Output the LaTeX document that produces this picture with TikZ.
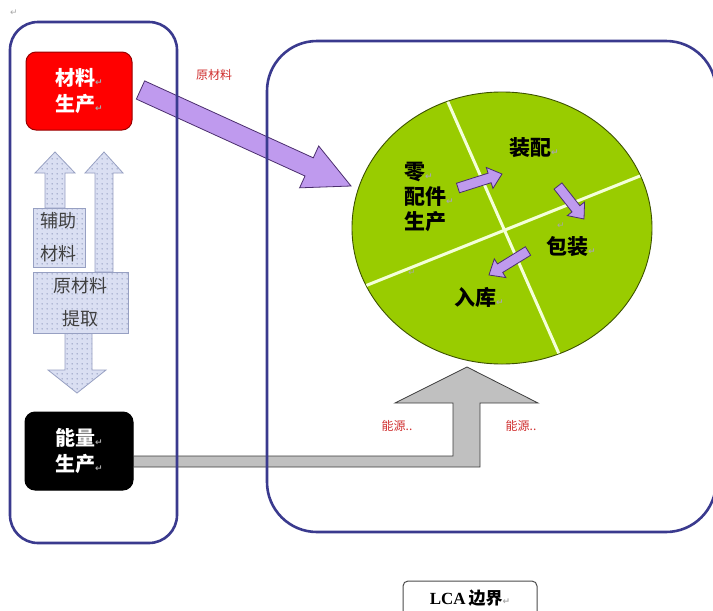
\documentclass[tikz,border=0pt]{standalone}
\usepackage{fontspec}
\setmainfont{Liberation Serif}
\newfontfamily\cjk{Noto Sans CJK SC}
\newfontfamily\symf{DejaVu Sans}
\usetikzlibrary{calc,patterns.meta,shapes.geometric}
\definecolor{navy}{HTML}{3A3A8E}
\definecolor{purp}{HTML}{BF9AEE}
\definecolor{purpd}{HTML}{4B2E6E}
\definecolor{leaf}{HTML}{99CC00}
\definecolor{leafd}{HTML}{3D5200}
\definecolor{linew}{HTML}{F4FFD8}
\definecolor{garr}{HTML}{C0C0C0}
\definecolor{garrd}{HTML}{3C3C3C}
\definecolor{lav}{HTML}{DADFF2}
\definecolor{lavdot}{HTML}{7D88B0}
\definecolor{lavb}{HTML}{97A0C2}
\definecolor{retc}{HTML}{A8A8A8}
\definecolor{lblred}{HTML}{D03030}
\definecolor{boxred}{HTML}{FF0000}
\tikzdeclarepattern{name=softdots,type=uncolored,bottom left={(0pt,0pt)},top right={(5pt,5pt)},tile size={(5pt,5pt)},code={\fill (2.5pt,2.5pt) circle (0.75pt);}}
\newcommand\rmk{{\symf\fontsize{9}{9}\selectfont\color{retc}↵}}
\newcommand\FatArr[6]{%
  \coordinate (fah) at ($(#3)!#6!(#2)$);
  \path[#1] ($(#2)!#4!90:(#3)$) -- ($(fah)!#4!90:(#3)$) -- ($(fah)!#5!90:(#3)$) -- (#3)
    -- ($(fah)!#5!-90:(#3)$) -- ($(fah)!#4!-90:(#3)$) -- ($(#2)!#4!-90:(#3)$) -- cycle;}
\tikzset{
  bound/.style={draw=navy,line width=2.6pt},
  srcbox/.style={rounded corners=10pt,line width=1pt,text=white,align=left,
    font=\cjk\bfseries\fontsize{20}{26}\selectfont,inner sep=0pt},
  dotshape/.style={draw=lavb,line width=0.8pt,preaction={fill=lav},pattern=softdots,pattern color=lavdot},
  dottext/.style={text=black!75,align=center,font=\cjk\fontsize{18}{33}\selectfont,inner sep=0pt},
  purpshape/.style={fill=purp,draw=purpd,line width=0.8pt},
  stage/.style={font=\cjk\bfseries\fontsize{21}{25}\selectfont,align=left,inner sep=0pt,anchor=west},
  redlbl/.style={text=lblred,font=\cjk\fontsize{12}{14}\selectfont,inner sep=0pt},
}
\begin{document}
\begin{tikzpicture}[x=1pt,y=-1pt]
\useasboundingbox (0,0) rectangle (713,611);
\fill[white] (0,0) rectangle (713,611);
\node[inner sep=0pt] (topmark) at (14,13) {\rmk};

% green process circle
\node[ellipse,fill=leaf,draw=leafd,line width=0.9pt,minimum width=300pt,minimum height=272pt,inner sep=0pt] (core) at (502,228) {};
\begin{scope}
  \clip (502,228) ellipse [x radius=149.5, y radius=135.5];
  \draw[linew,line width=3pt] (440,84) -- (567,372);
  \draw[linew,line width=3pt] (345,294) -- (660,168);
\end{scope}

% texts in circle
\node[stage] (parts) at (404,197) {零\rmk\\配件\rmk\\生产};
\node[stage] (assem) at (509,148) {装配\rmk};
\node[stage] (pack) at (546,247) {包装\rmk};
\node[stage] (store) at (454,297) {入库\rmk};
\node[inner sep=0pt] (m1) at (561,226) {\rmk};
\node[inner sep=0pt] (m2) at (412,273) {\rmk};

% small process arrows
\coordinate (s1a) at (458,188); \coordinate (s1b) at (502,174);
\coordinate (s2a) at (558,186); \coordinate (s2b) at (584,219);
\coordinate (s3a) at (528,251); \coordinate (s3b) at (489,275);
\FatArr{purpshape}{s1a}{s1b}{5pt}{11pt}{13pt}
\FatArr{purpshape}{s2a}{s2b}{5pt}{11pt}{13pt}
\FatArr{purpshape}{s3a}{s3b}{5pt}{11pt}{13pt}

% source boxes
\node[srcbox,fill=boxred,draw=red!60!black,minimum width=106pt,minimum height=78pt] (mat) at (79,91) {材料\rmk\\生产\rmk};
\node[srcbox,fill=black,draw=black,minimum width=108pt,minimum height=78pt] (energy) at (79,451) {能量\rmk\\生产\rmk};

% raw material arrow
\coordinate (rawTail) at ($(mat.east)+(8,-1)$);
\coordinate (rawTip) at (351,186);
\FatArr{purpshape}{rawTail}{rawTip}{10pt}{23pt}{46pt}
\node[redlbl] (rawlbl) at (214,75) {原材料};

% energy arrow
\path[fill=garr,draw=garrd,line width=0.8pt]
  (energy.east |- 0,456) -- (453,456) -- (453,403) -- (395,403) -- (467,367)
  -- (538,403) -- (480,403) -- (480,467) -- (energy.east |- 0,467) -- cycle;
\node[redlbl] (en1) at (397,426) {能源..};
\node[redlbl] (en2) at (521,426) {能源..};

% auxiliary / extraction arrows
\path[dotshape] (45,208) -- (45,173) -- (35,173) -- (55,152) -- (75,173) -- (65,173) -- (65,208) -- cycle;
\path[dotshape] (95,272) -- (95,173) -- (85,173) -- (104,152) -- (123,173) -- (113,173) -- (113,272) -- cycle;
\path[dotshape] (65,333) -- (65,370) -- (48,370) -- (77,393) -- (106,370) -- (92,370) -- (92,333) -- cycle;
\node[dotshape,dottext,minimum width=52pt,minimum height=59pt] (aux) at (59,237.5) {辅助\\材料};
\node[dotshape,dottext,minimum width=95pt,minimum height=61pt] (extr) at (80.5,302.5) {原材料\\提取};

% boundaries
\node[bound,rounded corners=28pt,minimum width=167pt,minimum height=521pt,inner sep=0pt] (leftb) at (93.5,282.5) {};
\node[bound,rounded corners=50pt,minimum width=449pt,minimum height=491pt,inner sep=0pt] (rightb) at (491.5,286.5) {};

% legend
\node[draw=black!70,line width=1pt,rounded corners=5pt,minimum width=134pt,minimum height=44pt,inner sep=0pt] (lca) at (470,603) {};
\node[inner sep=0pt,font=\bfseries\fontsize{17}{17}\selectfont] (lcatext) at (470,598) {LCA\,{\cjk\bfseries 边界}\rmk};
\end{tikzpicture}
\end{document}
